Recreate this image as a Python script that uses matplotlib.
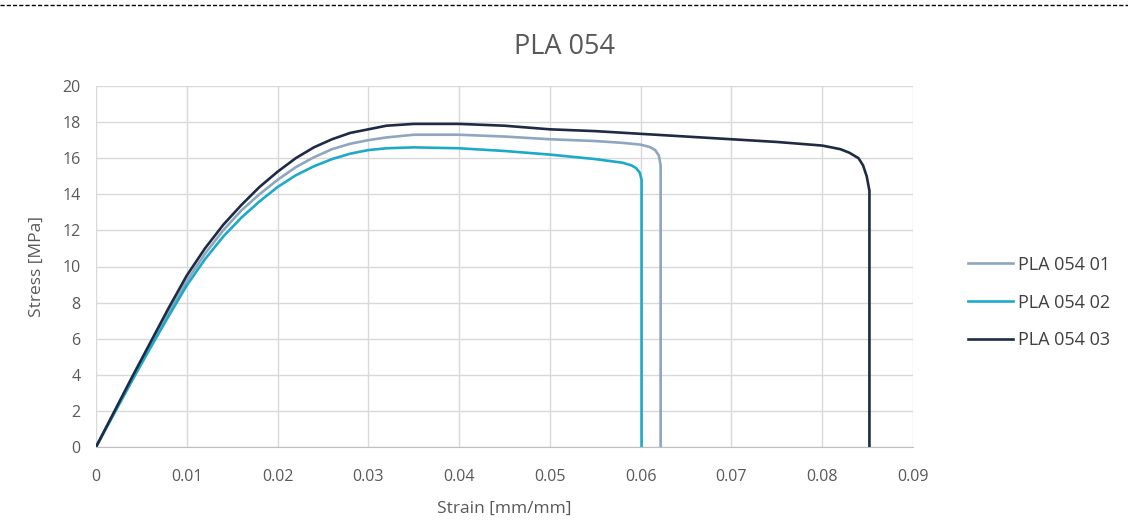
import matplotlib
matplotlib.use("Agg")
import matplotlib.pyplot as plt
from matplotlib.lines import Line2D

plt.rcParams['font.family'] = ['Open Sans', 'DejaVu Sans']

title = "PLA 054"
x_label = "Strain [mm/mm]"
y_label = "Stress [MPa]"
x_ticks = [0, 0.01, 0.02, 0.03, 0.04, 0.05, 0.06, 0.07, 0.08, 0.09]
x_tick_labels = ["0", "0.01", "0.02", "0.03", "0.04", "0.05", "0.06", "0.07", "0.08", "0.09"]
y_ticks = [0, 2, 4, 6, 8, 10, 12, 14, 16, 18, 20]

names = ["PLA 054 01", "PLA 054 02", "PLA 054 03"]

strain_01 = [0, 0.002, 0.004, 0.006, 0.008, 0.010, 0.012, 0.014, 0.016, 0.018, 0.020,
             0.022, 0.024, 0.026, 0.028, 0.030, 0.032, 0.035, 0.040, 0.045, 0.050,
             0.055, 0.058, 0.060, 0.061, 0.0616, 0.0620, 0.0622, 0.0622]
stress_01 = [0, 1.9, 3.8, 5.65, 7.45, 9.2, 10.7, 12.0, 13.1, 14.0, 14.8,
             15.5, 16.05, 16.5, 16.8, 17.0, 17.15, 17.3, 17.3, 17.2, 17.05,
             16.95, 16.85, 16.75, 16.62, 16.45, 16.15, 15.6, 0]

strain_02 = [0, 0.002, 0.004, 0.006, 0.008, 0.010, 0.012, 0.014, 0.016, 0.018, 0.020,
             0.022, 0.024, 0.026, 0.028, 0.030, 0.032, 0.035, 0.040, 0.045, 0.050,
             0.055, 0.058, 0.059, 0.0595, 0.0599, 0.0601, 0.0601]
stress_02 = [0, 1.85, 3.7, 5.5, 7.25, 8.95, 10.4, 11.65, 12.7, 13.6, 14.4,
             15.05, 15.55, 15.95, 16.25, 16.45, 16.55, 16.6, 16.55, 16.4, 16.2,
             15.95, 15.75, 15.6, 15.45, 15.2, 14.8, 0]

strain_03 = [0, 0.002, 0.004, 0.006, 0.008, 0.010, 0.012, 0.014, 0.016, 0.018, 0.020,
             0.022, 0.024, 0.026, 0.028, 0.030, 0.032, 0.035, 0.040, 0.045, 0.050,
             0.055, 0.060, 0.065, 0.070, 0.075, 0.080, 0.082, 0.083, 0.084, 0.0845,
             0.0849, 0.0852, 0.0852]
stress_03 = [0, 1.95, 3.9, 5.8, 7.7, 9.5, 11.0, 12.3, 13.4, 14.4, 15.25,
             16.0, 16.6, 17.05, 17.4, 17.6, 17.8, 17.9, 17.9, 17.8, 17.6,
             17.5, 17.35, 17.2, 17.05, 16.9, 16.7, 16.5, 16.3, 16.0, 15.6,
             15.0, 14.2, 0]

colors = ["#8EA7BF", "#1DAAC8", "#1F2A44"]

fig = plt.figure(figsize=(11.28, 5.2), dpi=100)
ax = fig.add_axes([96 / 1128, 1 - 447 / 520, (913 - 96) / 1128, (447 - 86) / 520])

for sx, sy, c, n in zip([strain_01, strain_02, strain_03],
                        [stress_01, stress_02, stress_03], colors, names):
    ax.plot(sx, sy, color=c, lw=1.9, label=n, solid_joinstyle='round')

ax.set_xlim(0, 0.09)
ax.set_ylim(0, 20)
ax.set_xticks(x_ticks)
ax.set_xticklabels(x_tick_labels)
ax.set_yticks(y_ticks)
ax.grid(True, color="#D9D9D9", lw=1)
ax.set_axisbelow(True)
for s in ["top", "right", "left"]:
    ax.spines[s].set_visible(False)
ax.spines["bottom"].set_color("#BFBFBF")
ax.tick_params(length=0, labelsize=11.5, colors="#595959")
ax.tick_params(axis='x', pad=16)
ax.tick_params(axis='y', pad=11)

ax.set_xlabel(x_label, fontsize=12.5, color="#595959", labelpad=11)
ax.set_ylabel(y_label, fontsize=12.5, color="#595959", labelpad=13)
fig.text(0.5, 1 - 47 / 520, title, ha="center", va="center",
         fontsize=19.5, color="#595959")

leg = ax.legend(loc="center left", bbox_to_anchor=(1.058, 0.40), frameon=False,
                fontsize=13, labelcolor="#404040", handlelength=2.5,
                handletextpad=0.3, labelspacing=1.1, borderaxespad=0)

fig.add_artist(Line2D([0, 1], [1 - 5 / 520, 1 - 5 / 520], transform=fig.transFigure,
                      color="black", lw=1, linestyle=(0, (3, 1.5))))

fig.savefig("out.png", dpi=100)
